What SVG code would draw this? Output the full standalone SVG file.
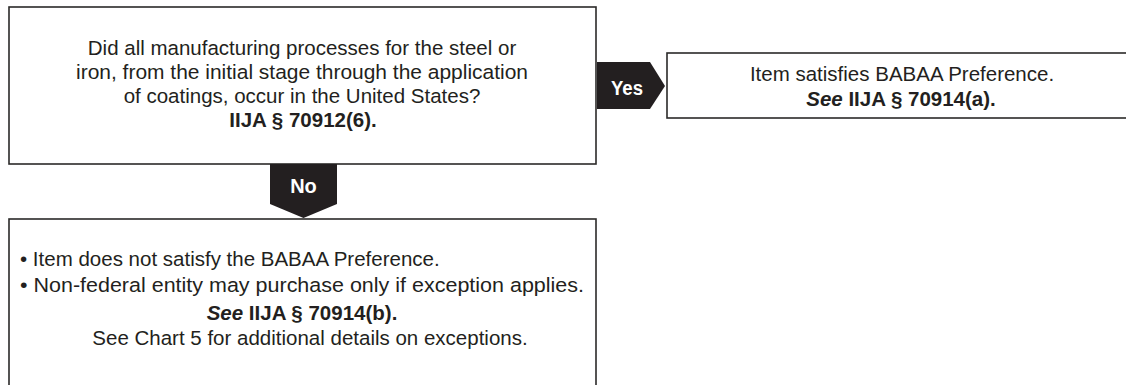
<svg xmlns="http://www.w3.org/2000/svg" width="1126" height="385" viewBox="0 0 1126 385">
  <style>
    .box { fill: #ffffff; stroke: #2b2a29; stroke-width: 1.6; }
    .tag { fill: #231f20; }
    .t { font-family: "Liberation Sans", Arial, sans-serif; font-size: 20.5px; fill: #231f20; }
    .c { text-anchor: middle; }
    .b { font-weight: bold; }
    .bi { font-weight: bold; font-style: italic; }
    .lab { font-family: "Liberation Sans", Arial, sans-serif; font-size: 20px; font-weight: bold; fill: #ffffff; text-anchor: middle; }
  </style>

  <!-- Question box -->
  <g id="question">
    <rect class="box" x="9" y="7" width="587" height="157"/>
    <text class="t c" x="302" y="55">Did all manufacturing processes for the steel or</text>
    <text class="t c" x="302" y="79" textLength="452" lengthAdjust="spacingAndGlyphs">iron, from the initial stage through the application</text>
    <text class="t c" x="302" y="103">of coatings, occur in the United States?</text>
    <text class="t c b" x="303" y="127">IIJA § 70912(6).</text>
  </g>

  <!-- Outcome when every process is domestic -->
  <g id="satisfies">
    <rect class="box" x="667" y="53" width="470" height="65"/>
    <text class="t c" x="902" y="81">Item satisfies BABAA Preference.</text>
    <text class="t c" x="901" y="106"><tspan class="bi">See</tspan><tspan class="b"> IIJA § 70914(a).</tspan></text>
  </g>

  <!-- Outcome when some process is not domestic -->
  <g id="not-satisfied">
    <rect class="box" x="9" y="219" width="587" height="180"/>
    <text class="t" x="20" y="266">• Item does not satisfy the BABAA Preference.</text>
    <text class="t" x="20" y="292" textLength="564" lengthAdjust="spacingAndGlyphs">• Non-federal entity may purchase only if exception applies.</text>
    <text class="t c" x="302" y="320"><tspan class="bi">See</tspan><tspan class="b"> IIJA § 70914(b).</tspan></text>
    <text class="t c" x="310" y="345">See Chart 5 for additional details on exceptions.</text>
  </g>

  <!-- Connectors -->
  <g id="connectors">
    <g id="yes">
      <polygon class="tag" points="597,62 650,62 665,86 650,109 597,109"/>
      <text class="lab" x="627" y="95" textLength="32" lengthAdjust="spacingAndGlyphs">Yes</text>
    </g>
    <g id="no">
      <polygon class="tag" points="270,164 337,164 337,204 303.5,218 270,204"/>
      <text class="lab" x="303.5" y="193">No</text>
    </g>
  </g>
</svg>
